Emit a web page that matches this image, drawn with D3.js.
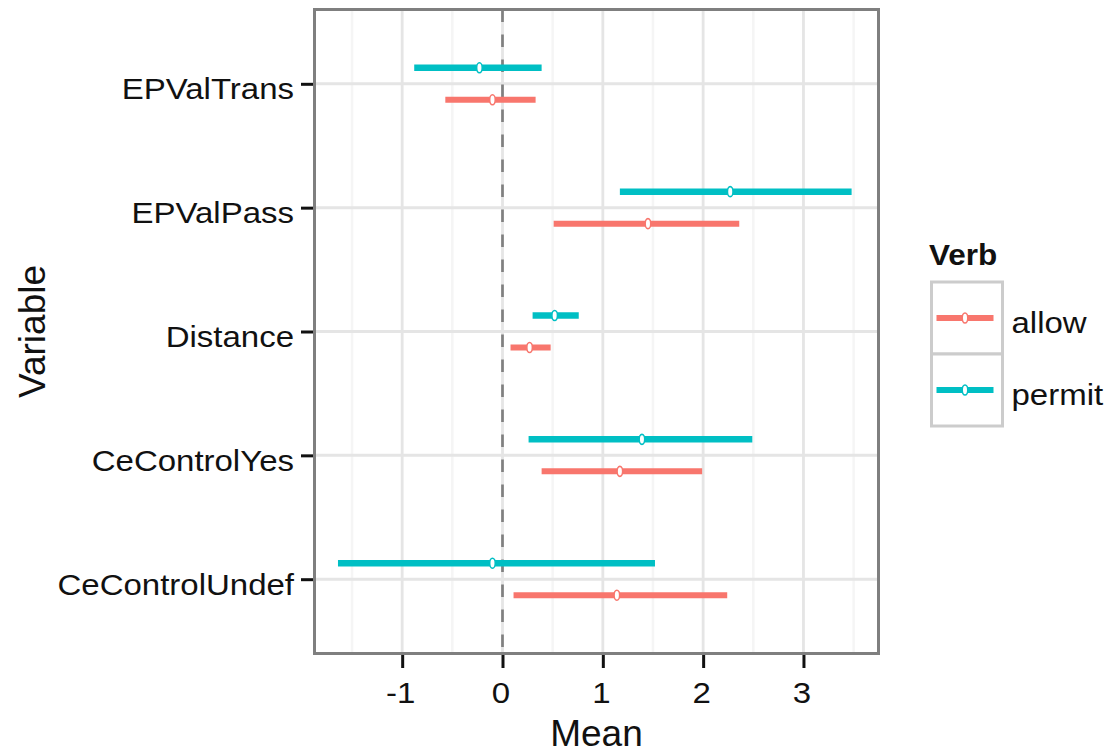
<!DOCTYPE html>
<html>
<head>
<meta charset="utf-8">
<script src="https://cdn.jsdelivr.net/npm/d3@7"></script>
<style>
  html, body { margin: 0; padding: 0; background: #fff; }
  svg { display: block; }
  text { font-family: "Liberation Sans", Arial, sans-serif; }
</style>
</head>
<body>
<svg id="chart" width="1111" height="753"></svg>
<script>
const categories = ["EPValTrans", "EPValPass", "Distance", "CeControlYes", "CeControlUndef"];
const seriesNames = ["allow", "permit"];
const allowMean = [-0.10, 1.45, 0.27, 1.17, 1.14];
const allowLow  = [-0.57, 0.51, 0.08, 0.39, 0.11];
const allowHigh = [0.33, 2.36, 0.48, 1.99, 2.24];
const permitMean = [-0.23, 2.27, 0.52, 1.39, -0.10];
const permitLow  = [-0.88, 1.17, 0.30, 0.26, -1.64];
const permitHigh = [0.39, 3.48, 0.76, 2.49, 1.52];
const xTicks = [-1, 0, 1, 2, 3];
const xTickLabels = ["-1", "0", "1", "2", "3"];
const xMinor = [-1.5, -0.5, 0.5, 1.5, 2.5, 3.5];

const colors = { allow: "#F8766D", permit: "#00BFC4" };
const svg = d3.select("#chart");

const panel = { left: 314.5, right: 878.5, top: 9.5, bottom: 653.5 };
const x = d3.scaleLinear().domain([-1.874, 3.748]).range([panel.left, panel.right]);
const y = d3.scalePoint().domain(categories).range([panel.top, panel.bottom]).padding(0.6);
const dodge = { permit: -16, allow: 16 };
const stretch = 1.1;

// minor grid
svg.append("g").selectAll("line").data(xMinor).join("line")
  .attr("x1", d => x(d)).attr("x2", d => x(d))
  .attr("y1", panel.top).attr("y2", panel.bottom)
  .attr("stroke", "#F5F5F5").attr("stroke-width", 2.5);
// major grid
svg.append("g").selectAll("line").data(xTicks).join("line")
  .attr("x1", d => x(d)).attr("x2", d => x(d))
  .attr("y1", panel.top).attr("y2", panel.bottom)
  .attr("stroke", "#E5E5E5").attr("stroke-width", 2.8);
svg.append("g").selectAll("line").data(categories).join("line")
  .attr("x1", panel.left).attr("x2", panel.right)
  .attr("y1", d => y(d)).attr("y2", d => y(d))
  .attr("stroke", "#E5E5E5").attr("stroke-width", 3);

// zero reference line
svg.append("line")
  .attr("x1", x(0)).attr("x2", x(0))
  .attr("y1", panel.top).attr("y2", panel.bottom)
  .attr("stroke", "#808080").attr("stroke-width", 2.7)
  .attr("stroke-dasharray", "12.5,12.5");

// data
const rows = [];
categories.forEach((c, i) => {
  rows.push({ cat: c, s: "permit", m: permitMean[i], lo: permitLow[i], hi: permitHigh[i] });
  rows.push({ cat: c, s: "allow", m: allowMean[i], lo: allowLow[i], hi: allowHigh[i] });
});
const g = svg.append("g");
g.selectAll("line.range").data(rows).join("line").attr("class", "range")
  .attr("x1", d => x(d.lo)).attr("x2", d => x(d.hi))
  .attr("y1", d => y(d.cat) + dodge[d.s]).attr("y2", d => y(d.cat) + dodge[d.s])
  .attr("stroke", d => colors[d.s]).attr("stroke-width", d => d.s === "permit" ? 6.5 : 6);
g.selectAll("ellipse").data(rows).join("ellipse")
  .attr("cx", d => x(d.m)).attr("cy", d => y(d.cat) + dodge[d.s])
  .attr("rx", 2.8).attr("ry", 5)
  .attr("fill", "#fff").attr("stroke", d => colors[d.s]).attr("stroke-width", 1.6);

// panel border
svg.append("rect")
  .attr("x", panel.left).attr("y", panel.top)
  .attr("width", panel.right - panel.left).attr("height", panel.bottom - panel.top)
  .attr("fill", "none").attr("stroke", "#7F7F7F").attr("stroke-width", 3);

// y axis
const yAxis = d3.axisLeft(y).tickSize(12).tickPadding(6);
const yg = svg.append("g").attr("transform", `translate(${panel.left - 1.5},0)`).call(yAxis);
yg.select(".domain").remove();
yg.selectAll(".tick line").attr("stroke", "#111").attr("stroke-width", 3);
yg.selectAll(".tick text").remove();
yg.selectAll(".tick").append("text")
  .attr("transform", `translate(-19,15) scale(${stretch},1)`)
  .attr("text-anchor", "end")
  .attr("font-size", 30).attr("fill", "#111")
  .text(d => d);

// x axis
const xAxis = d3.axisBottom(x).tickValues(xTicks).tickSize(13);
const xg = svg.append("g").attr("transform", `translate(0,${panel.bottom + 1.5})`).call(xAxis);
xg.select(".domain").remove();
xg.selectAll(".tick line").attr("stroke", "#111").attr("stroke-width", 3);
xg.selectAll(".tick text").remove();
xg.selectAll(".tick").append("text")
  .attr("transform", `translate(-2,48) scale(${stretch},1)`)
  .attr("text-anchor", "middle")
  .attr("font-size", 30).attr("fill", "#111")
  .text((d, i) => xTickLabels[i]);

// axis titles
svg.append("text")
  .attr("x", (panel.left + panel.right) / 2).attr("y", 746)
  .attr("text-anchor", "middle").attr("font-size", 37).attr("fill", "#111")
  .text("Mean");
svg.append("text")
  .attr("transform", `translate(45,${(panel.top + panel.bottom) / 2}) rotate(-90)`)
  .attr("text-anchor", "middle").attr("font-size", 37).attr("fill", "#111")
  .text("Variable");

// legend
const lg = svg.append("g");
lg.append("text")
  .attr("transform", `translate(929,265) scale(1.05,1)`)
  .attr("font-size", 30).attr("font-weight", "bold").attr("fill", "#111")
  .text("Verb");
const keyTop = 282, keyH = 72;
const keys = lg.selectAll("g.key").data(seriesNames).join("g").attr("class", "key")
  .attr("transform", (d, i) => `translate(931.5,${keyTop + i * keyH})`);
keys.append("rect")
  .attr("x", 0).attr("y", 0).attr("width", 71).attr("height", keyH)
  .attr("fill", "#fff").attr("stroke", "#CCCCCC").attr("stroke-width", 3);
keys.append("line")
  .attr("x1", 5).attr("x2", 62).attr("y1", keyH / 2).attr("y2", keyH / 2)
  .attr("stroke", d => colors[d]).attr("stroke-width", 6);
keys.append("ellipse")
  .attr("cx", 33.5).attr("cy", keyH / 2).attr("rx", 2.8).attr("ry", 5)
  .attr("fill", "#fff").attr("stroke", d => colors[d]).attr("stroke-width", 1.6);
keys.append("text")
  .attr("transform", `translate(80,${keyH / 2 + 15}) scale(${stretch},1)`)
  .attr("font-size", 30).attr("fill", "#111")
  .text(d => d);
</script>
</body>
</html>
